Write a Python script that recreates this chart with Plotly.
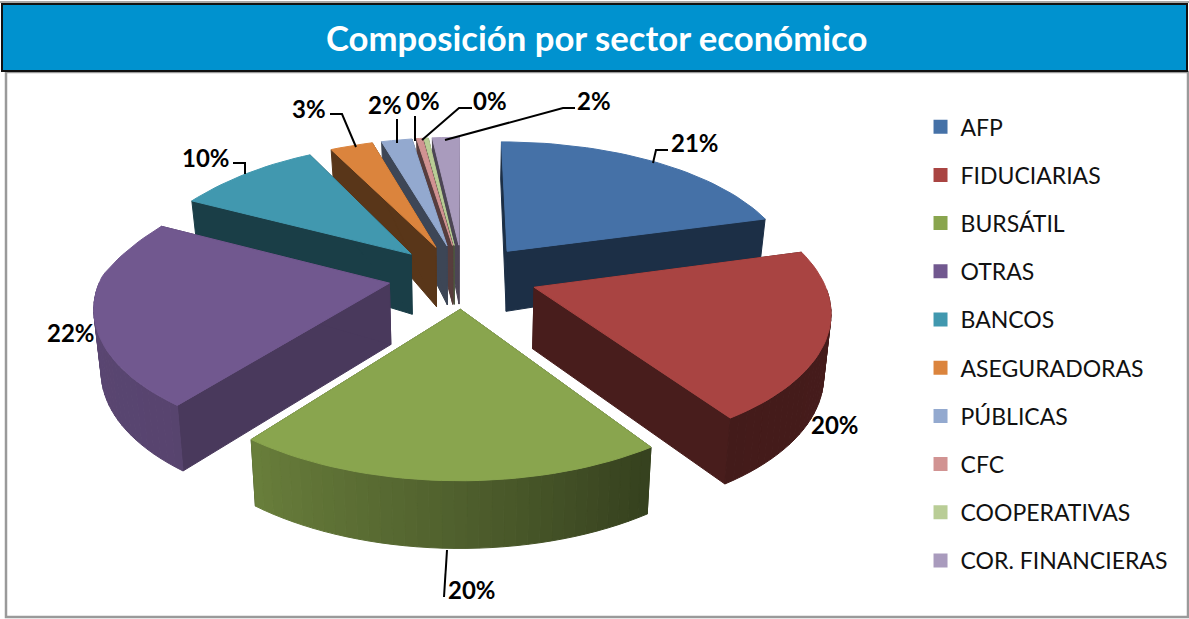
import numpy as np
import plotly.graph_objects as go

# --- data ---
categories = ["AFP", "FIDUCIARIAS", "BURSÁTIL", "OTRAS", "BANCOS", "ASEGURADORAS",
              "PÚBLICAS", "CFC", "COOPERATIVAS", "COR. FINANCIERAS"]
values = [20.7, 19.9, 19.9, 21.9, 10.0, 3.0, 2.1, 0.4, 0.3, 1.8]
colors = ["#4571A7", "#A94442", "#89A54E", "#71588F", "#4198AF",
          "#DB843D", "#93A9CF", "#D19392", "#B9CD96", "#A99BBD"]
title_text = "Composición por sector económico"

# --- projection / styling parameters ---
CX, CY = 463, 276
RX, PX_FRONT, PX_BACK, PX_LEFT = 288, 0.15, 0.15, 0.08
A, P = 133.4, 0.155
EXPLODE_X, EXPLODE_Y = 0.26, 0.24
H_Y, H_V = [-1.3, 0.2, 0.9, 1.3], [68, 60, 40, 36]
BOTTOM_SHRINK = 0.98
SHADE_A, SHADE_F = [90, 148, 180, 220, 270], [0.42, 0.40, 0.58, 0.78, 0.80]
CUT_FACTOR = [0.42, 0.43, 0.42, 0.65, 0.41, 0.41, 0.42, 0.42, 0.42, 0.45]
DRAW_ORDER = [9, 8, 7, 6, 5, 0, 4, 1, 3, 2]
LABEL_POS = [(695, 142), (835, 424), (472, 589), (71, 332), (206, 157),
             (309, 108), (385, 104), (423, 100), (490, 100), (594, 100)]
LEADERS = [[(653, 163), (656, 150), (668, 150)],
           [(447, 550), (444, 597)],
           [(233, 163), (245, 163), (245, 174)],
           [(330, 114), (342, 114), (356, 147)],
           [(397, 119), (397, 143)],
           [(415, 116), (415, 141)],
           [(472, 108), (459, 108), (422, 140)],
           [(575, 108), (563, 108), (445, 140)]]


def project(X, Y):
    X, Y = np.asarray(X, float), np.asarray(Y, float)
    den = 1 + np.where(Y > 0, PX_BACK, PX_FRONT) * Y + PX_LEFT * np.maximum(Y, 0) * np.maximum(-X, 0)
    return CX + RX * X / den, CY - A * Y / (1 + P * Y)


def bottom(X, Y):
    x, y = project(X, Y)
    return CX + (x - CX) * BOTTOM_SHRINK, y + np.interp(Y, H_Y, H_V)


def shade(hex_color, f):
    rgb = [int(hex_color[i:i + 2], 16) for i in (1, 3, 5)]
    return "rgb({},{},{})".format(*[int(c * f) for c in rgb])


fig = go.Figure()


def poly(xs, ys, color):
    fig.add_trace(go.Scatter(x=list(xs), y=list(ys), mode="lines", fill="toself",
                             fillcolor=color, line=dict(color=color, width=1),
                             hoverinfo="skip", showlegend=False))


total = sum(values)
edges = np.concatenate([[0], np.cumsum(values)]) / total * 360

for i in DRAW_ORDER:
    a0, a1 = edges[i], edges[i + 1]
    mid = np.radians((a0 + a1) / 2)
    ox, oy = EXPLODE_X * np.sin(mid), EXPLODE_Y * np.cos(mid)
    n = max(2, int((a1 - a0) / 2))
    ang = np.linspace(a0, a1, n + 1)
    rad = np.radians(ang)
    X, Y = ox + np.sin(rad), oy + np.cos(rad)
    # cut walls
    for ex, ey in ((X[0], Y[0]), (X[-1], Y[-1])):
        xt, yt = project([ox, ex], [oy, ey])
        xb, yb = bottom([ox, ex], [oy, ey])
        poly([xt[0], xt[1], xb[1], xb[0], xt[0]],
             [yt[0], yt[1], yb[1], yb[0], yt[0]], shade(colors[i], CUT_FACTOR[i]))
    # outer wall, camera-facing part only, segment by segment for the shading
    xt, yt = project(X, Y)
    xb, yb = bottom(X, Y)
    for k in range(n):
        m = (ang[k] + ang[k + 1]) / 2
        if 90 <= m <= 270:
            f = np.interp(m, SHADE_A, SHADE_F)
            poly([xt[k], xt[k + 1], xb[k + 1], xb[k], xt[k]],
                 [yt[k], yt[k + 1], yb[k + 1], yb[k], yt[k]], shade(colors[i], f))
    # top face
    ax, ay = project(ox, oy)
    poly(np.r_[ax, xt, ax], np.r_[ay, yt, ay], colors[i])

# legend entries
for i, name in enumerate(categories):
    fig.add_trace(go.Scatter(x=[None], y=[None], mode="markers", name=name, legendgroup=name,
                             marker=dict(symbol="square", size=14, color=colors[i]),
                             hoverinfo="skip"))

shapes = [
    dict(type="rect", x0=6, x1=1188, y0=72, y1=617, line=dict(color="#9a9a9a", width=2.5),
         fillcolor="white", layer="below"),
    dict(type="line", x0=0, x1=1189, y0=2, y1=2, line=dict(color="#8a8a8a", width=1.5), layer="below"),
    dict(type="rect", x0=2, x1=1187, y0=4, y1=71, line=dict(color="#111111", width=2),
         fillcolor="#0092CF", layer="below"),
]
for pts in LEADERS:
    path = "M " + " L ".join(f"{x},{y}" for x, y in pts)
    shapes.append(dict(type="path", path=path, line=dict(color="black", width=2)))

annotations = [dict(x=596, y=37, text=f"<b>{title_text}</b>", showarrow=False,
                    font=dict(family="Lato", size=34.7, color="white"))]
for i, (x, y) in enumerate(LABEL_POS):
    annotations.append(dict(x=x, y=y, text=f"<b>{round(values[i] / total * 100)}%</b>", showarrow=False,
                            font=dict(family="Lato", size=24, color="black")))

fig.update_layout(
    width=1189, height=619, margin=dict(l=0, r=0, t=0, b=0),
    paper_bgcolor="white", plot_bgcolor="white",
    xaxis=dict(range=[0, 1189], visible=False, fixedrange=True),
    yaxis=dict(range=[619, 0], visible=False, fixedrange=True),
    shapes=shapes, annotations=annotations,
    legend=dict(x=0.7742, y=0.83, xanchor="left", yanchor="top", tracegroupgap=15.3,
                font=dict(family="Lato", size=23, color="#111111"), bgcolor="rgba(0,0,0,0)"),
)
fig.write_html("out.html", config=dict(displayModeBar=False),
               post_script="document.body.style.margin='0';document.body.style.overflow='hidden';")
